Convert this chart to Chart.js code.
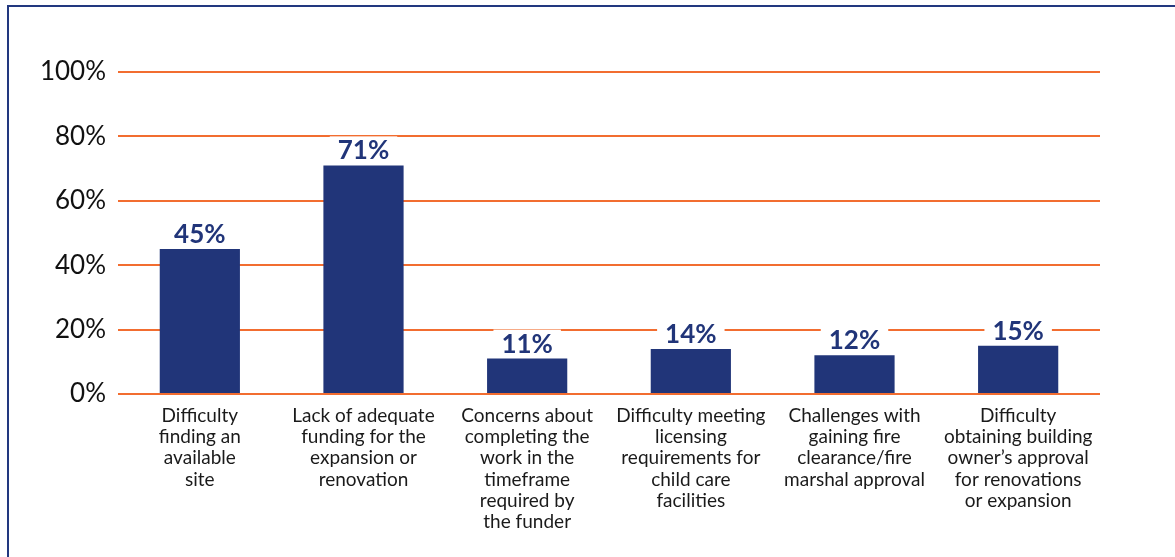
<!DOCTYPE html>
<html>
<head>
<meta charset="utf-8">
<script src="https://cdn.jsdelivr.net/npm/chart.js@4"></script>
<style>
  html, body { margin: 0; padding: 0; background: #fff; overflow: hidden; }
  #wrap { position: relative; width: 1175px; height: 557px; }
  #frame { position: absolute; left: 7px; top: 5px; width: 1200px; height: 600px;
           border-left: 2px solid #22387f; border-top: 2px solid #22387f; box-sizing: border-box; }
  canvas { position: absolute; left: 0; top: 0; }
</style>
</head>
<body>
<div id="wrap">
  <div id="frame"></div>
  <canvas id="c" width="1175" height="557"></canvas>
</div>
<script>
const categories = [
  ["Difficulty", "finding an", "available", "site"],
  ["Lack of adequate", "funding for the", "expansion or", "renovation"],
  ["Concerns about", "completing the", "work in the", "timeframe", "required by", "the funder"],
  ["Difficulty meeting", "licensing", "requirements for", "child care", "facilities"],
  ["Challenges with", "gaining fire", "clearance/fire", "marshal approval"],
  ["Difficulty", "obtaining building", "owner\u2019s approval", "for renovations", "or expansion"]
];
const values = [45, 71, 11, 14, 12, 15];
const valueLabels = ["45%", "71%", "11%", "14%", "12%", "15%"];
const yTickValues = [0, 20, 40, 60, 80, 100];

const barColor = "#213579";
const gridColor = "#f26d30";

const labelPlugin = {
  id: "valueLabels",
  afterDatasetsDraw(chart) {
    const ctx = chart.ctx;
    const meta = chart.getDatasetMeta(0);
    ctx.save();
    ctx.font = "bold 26px Lato";
    ctx.textAlign = "center";
    ctx.textBaseline = "alphabetic";
    meta.data.forEach((bar, i) => {
      const txt = valueLabels[i];
      const w = ctx.measureText(txt).width;
      const base = bar.y - 6;
      ctx.fillStyle = "#ffffff";
      ctx.fillRect(bar.x - w / 2 - 8, base - 23, w + 16, 26);
      ctx.fillStyle = barColor;
      ctx.fillText(txt, bar.x, base);
    });
    ctx.restore();
  }
};

new Chart(document.getElementById("c"), {
  type: "bar",
  data: {
    labels: categories,
    datasets: [{
      data: values,
      backgroundColor: barColor,
      borderWidth: 0,
      categoryPercentage: 1,
      barPercentage: 0.49
    }]
  },
  options: {
    responsive: false,
    animation: false,
    devicePixelRatio: 1,
    layout: { padding: { top: 72, right: 75, bottom: 0, left: 0 } },
    plugins: { legend: { display: false }, tooltip: { enabled: false } },
    scales: {
      x: {
        grid: { display: false },
        border: { display: false },
        ticks: {
          color: "#1a1a1a",
          font: { family: "Lato", size: 19, lineHeight: 1.12 },
          padding: 3,
          maxRotation: 0,
          autoSkip: false
        },
        afterFit(scale) { scale.height = 163; }
      },
      y: {
        min: 0,
        max: 100,
        afterBuildTicks(scale) { scale.ticks = yTickValues.map(v => ({ value: v })); },
        grid: { color: gridColor, lineWidth: 2, drawTicks: false },
        border: { display: false },
        ticks: {
          color: "#111111",
          font: { family: "Lato", size: 26 },
          padding: 12,
          callback: v => v + "%"
        },
        afterFit(scale) { scale.width = 118; }
      }
    }
  },
  plugins: [labelPlugin]
});
</script>
</body>
</html>
